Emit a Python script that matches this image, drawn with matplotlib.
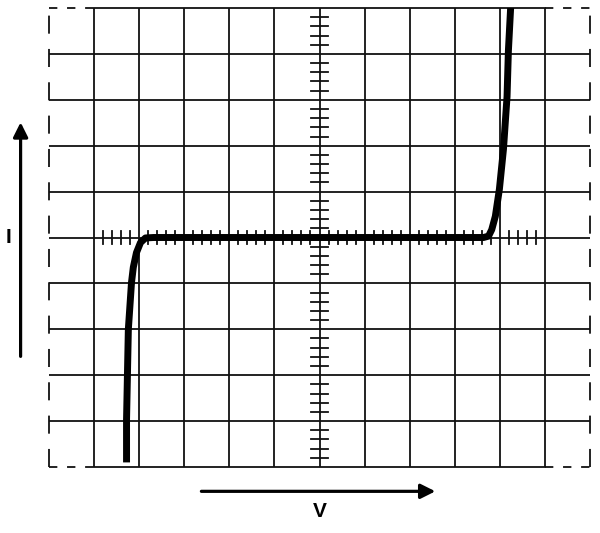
import matplotlib
matplotlib.use("Agg")
import matplotlib.pyplot as plt
import numpy as np

plt.rcParams['lines.scale_dashes'] = False

# I-V curve (in screen divisions; 0,0 = screen centre)
v_values = [-4.28, -4.28, -4.26, -4.24, -4.17, -4.13, -4.06, -3.97, -3.86, -3.68,
            3.64, 3.75, 3.82, 3.90, 3.99, 4.08, 4.16, 4.19, 4.24]
i_values = [-4.90, -3.97, -2.98, -2.00, -0.98, -0.65, -0.33, -0.11, -0.01, 0.0,
            0.0, 0.03, 0.17, 0.46, 1.05, 1.92, 3.07, 4.07, 5.01]

x_label = "V"
y_label = "I"
h_divs = 6   # half-width of screen in divisions
v_divs = 5   # half-height of screen in divisions

fig = plt.figure(figsize=(6.0, 5.33), dpi=100)
ax = fig.add_axes([49/600, 66/533, 541/600, 459/533])
ax.set_xlim(-h_divs, h_divs)
ax.set_ylim(-v_divs, v_divs)
ax.axis('off')

gc = '#111111'
glw = 1.3

# inner vertical grid lines
for k in range(-h_divs + 1, h_divs):
    ax.plot([k, k], [-v_divs, v_divs], color=gc, lw=glw, solid_capstyle='butt')
# horizontal grid lines
for k in range(-v_divs + 1, v_divs):
    ax.plot([-h_divs, h_divs], [k, k], color=gc, lw=glw, solid_capstyle='butt')
# top / bottom borders: solid in middle, dashed at outer columns
for yb in (-v_divs, v_divs):
    ax.plot([-h_divs + 1, h_divs - 1], [yb, yb], color=gc, lw=glw, clip_on=False)
    ax.plot([-h_divs, -h_divs + 1], [yb, yb], color=gc, lw=glw, clip_on=False,
            dashes=(6, 7))
    ax.plot([h_divs - 1, h_divs], [yb, yb], color=gc, lw=glw, clip_on=False,
            dashes=(6, 7))
# left / right dashed borders
for xb in (-h_divs, h_divs):
    ax.plot([xb, xb], [-v_divs, v_divs], color=gc, lw=glw, clip_on=False,
            dashes=(13, 11))

# minor ticks on centre axes
minor = np.arange(-25, 26) / 5.0
for t in minor:
    if abs(t - round(t)) < 1e-6:
        continue
    ax.plot([-0.18, 0.18], [t, t], color=gc, lw=glw)
for t in minor:
    if abs(t - round(t)) < 1e-6:
        continue
    ax.plot([t, t], [-0.15, 0.15], color=gc, lw=glw)

# curve
ax.plot(v_values, i_values, color='black', lw=5.0, solid_joinstyle='round',
        solid_capstyle='butt', zorder=5)

# arrows and labels
ax.annotate('', xy=(-6.63, 2.51), xytext=(-6.63, -2.59),
            arrowprops=dict(arrowstyle='-|>', lw=2.3, color='black',
                            mutation_scale=22, shrinkA=0, shrinkB=0),
            annotation_clip=False)
ax.annotate('', xy=(2.57, -5.53), xytext=(-2.62, -5.53),
            arrowprops=dict(arrowstyle='-|>', lw=2.3, color='black',
                            mutation_scale=22, shrinkA=0, shrinkB=0),
            annotation_clip=False)
ax.text(-6.90, 0.0, y_label, fontsize=15, fontweight='bold',
        family='Liberation Sans', ha='center', va='center', clip_on=False)
ax.text(0.0, -5.97, x_label, fontsize=15, fontweight='bold',
        family='Liberation Sans', ha='center', va='center', clip_on=False)

fig.savefig('out.png', dpi=100, facecolor='white')
